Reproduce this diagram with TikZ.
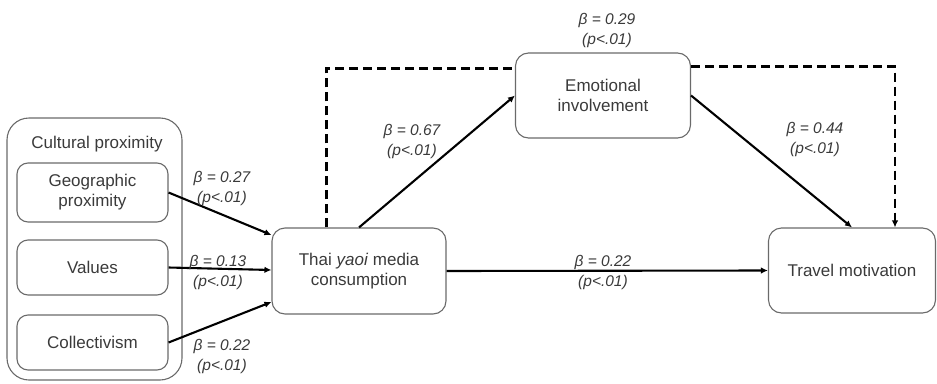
\documentclass[tikz,border=0pt]{standalone}
\usepackage{fontspec}
\setmainfont{Liberation Sans}
\usetikzlibrary{calc,arrows.meta}
\definecolor{txt}{HTML}{3A3A3A}
\definecolor{brd}{HTML}{6A6A6A}
\begin{document}
\begin{tikzpicture}[x=1pt,y=-1pt,
  box/.style={draw=brd,line width=1.1pt,rounded corners=11pt,align=center,
    text=txt,font=\fontsize{17}{20}\selectfont,inner sep=0pt},
  lab/.style={align=center,text=txt,font=\fontsize{15.5}{20}\selectfont\itshape,inner sep=0pt},
  arr/.style={line width=2.1pt,-{Latex[length=7pt,width=6.5pt]}},
  dline/.style={line width=2.1pt,dash pattern=on 9pt off 5pt},
]
\useasboundingbox (0,0) rectangle (937,383);
\node[box,rounded corners=22pt,minimum width=175pt,minimum height=262pt] (outer) at (94.5,249) {};
\node[text=txt,font=\fontsize{17}{20}\selectfont] (cult) at (97,144) {Cultural proximity};
\node[box,minimum width=151pt,minimum height=59pt] (geo) at (92.5,192.5) {Geographic\\proximity};
\node[box,minimum width=151pt,minimum height=55pt] (val) at (92.5,267.5) {Values};
\node[box,minimum width=151pt,minimum height=55pt] (col) at (92.5,342.5) {Collectivism};
\node[box,rounded corners=13pt,minimum width=174pt,minimum height=86pt] (thai) at (359,271) {Thai \emph{yaoi} media\\consumption};
\node[box,rounded corners=13pt,minimum width=175pt,minimum height=85pt] (emo) at (603,95.5) {Emotional\\involvement};
\node[box,rounded corners=13pt,minimum width=167pt,minimum height=85pt] (trav) at (852,270.5) {Travel motivation};

\draw[arr] (geo.east) -- ($(thai.west)+(0,-36)$);
\draw[arr] (val.east) -- ($(thai.west)+(0,-1)$);
\draw[arr] (col.east) -- ($(thai.west)+(0,31)$);
\draw[arr] (thai.north) -- (emo.west);
\draw[arr] (emo.east) -- (trav.north);
\draw[arr] (thai.east) -- (trav.west);
\draw[dline] ($(thai.north west)+(55,0)$) |- ($(emo.north west)+(0,16)$);
\draw[dline,-{Latex[length=7pt,width=6.5pt]}] ($(emo.north east)+(0,14)$) -| ($(trav.north)+(43,0)$);

\node[lab] (l1) at (222,188) {β = 0.27\\(p<.01)};
\node[lab] (l2) at (218,272) {β = 0.13\\(p<.01)};
\node[lab] (l3) at (222,356) {β = 0.22\\(p<.01)};
\node[lab] (l4) at (412,141) {β = 0.67\\(p<.01)};
\node[lab] (l5) at (607,30) {β = 0.29\\(p<.01)};
\node[lab] (l6) at (815,139) {β = 0.44\\(p<.01)};
\node[lab] (l7) at (603,272) {β = 0.22\\(p<.01)};
\end{tikzpicture}
\end{document}
